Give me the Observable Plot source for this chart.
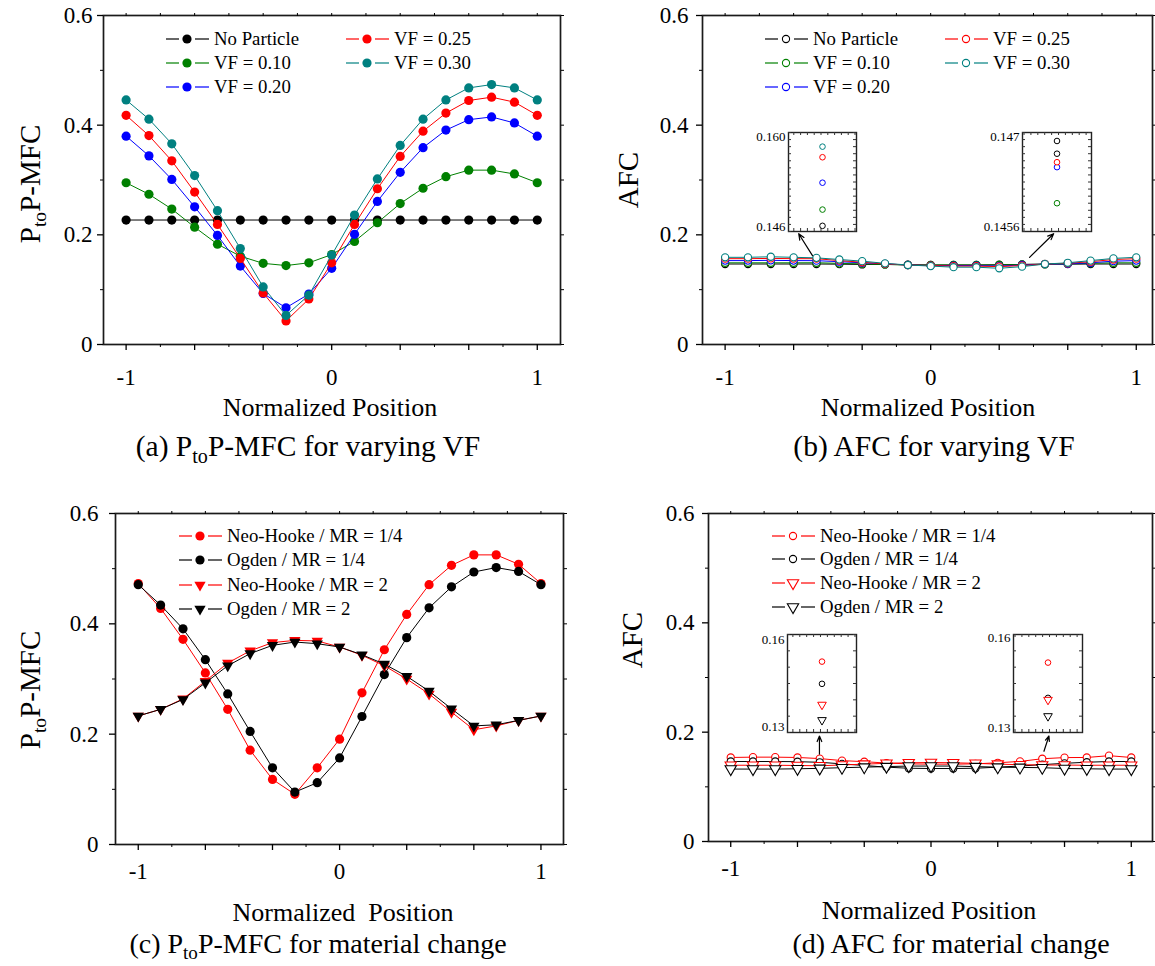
<!DOCTYPE html>
<html><head><meta charset="utf-8">
<script src="https://cdn.jsdelivr.net/npm/d3@7"></script>
<script src="https://cdn.jsdelivr.net/npm/@observablehq/plot@0.6"></script>
<style>
body { margin:0; background:#fff; }
#root { position:relative; width:1155px; height:966px; font-family:"Liberation Serif","Times New Roman",serif; color:#000; overflow:hidden; background:#fff; }
.box { position:absolute; }
.t { position:absolute; white-space:pre; transform:translate(-50%,-50%); line-height:1; }
.cap { font-size:29.5px; }
.cap2 { font-size:28px; }
.xt { font-size:26px; }
.yt { font-size:29px; transform:translate(-50%,-50%) rotate(-90deg); }
.t sub { font-size:0.68em; vertical-align:-0.32em; line-height:0; }
.leg { position:absolute; display:flex; align-items:center; height:22px; transform:translateY(-50%); font-size:18.8px; white-space:pre; }
.leg svg { display:block; }
</style></head>
<body><div id="root"></div>
<script>
// ---------------- data ----------------
const xPos = [-1, -0.8889, -0.7778, -0.6667, -0.5556, -0.4444, -0.3333, -0.2222, -0.1111, 0, 0.1111, 0.2222, 0.3333, 0.4444, 0.5556, 0.6667, 0.7778, 0.8889, 1];

// (a) PtoP-MFC for varying VF
const mfcNoParticle = [0.227,0.227,0.227,0.227,0.227,0.227,0.227,0.227,0.227,0.227,0.227,0.227,0.227,0.227,0.227,0.227,0.227,0.227,0.227];
const mfcVF10 = [0.295,0.274,0.247,0.214,0.183,0.161,0.148,0.144,0.149,0.164,0.188,0.222,0.257,0.285,0.306,0.318,0.318,0.311,0.295];
const mfcVF20 = [0.380,0.344,0.301,0.251,0.199,0.143,0.093,0.067,0.092,0.139,0.201,0.261,0.314,0.359,0.391,0.410,0.415,0.404,0.380];
const mfcVF25 = [0.418,0.381,0.335,0.278,0.219,0.157,0.094,0.043,0.083,0.149,0.219,0.284,0.343,0.389,0.422,0.445,0.451,0.442,0.418];
const mfcVF30 = [0.446,0.411,0.366,0.308,0.244,0.175,0.105,0.053,0.090,0.163,0.236,0.302,0.363,0.411,0.446,0.468,0.474,0.468,0.446];

// (b) AFC for varying VF
const afcNoParticle = [0.1468,0.1468,0.1468,0.1468,0.1468,0.1465,0.1460,0.1460,0.1455,0.1450,0.1450,0.1450,0.1455,0.1460,0.1469,0.1465,0.1468,0.1468,0.1468];
const afcVF10 = [0.1490,0.1490,0.1490,0.1490,0.1491,0.1480,0.1470,0.1460,0.1450,0.1450,0.1450,0.1450,0.1450,0.1460,0.1460,0.1470,0.1480,0.1490,0.1490];
const afcVF20 = [0.1530,0.1530,0.1535,0.1530,0.1529,0.1510,0.1490,0.1470,0.1450,0.1440,0.1440,0.1440,0.1430,0.1450,0.1465,0.1470,0.1490,0.1520,0.1530];
const afcVF25 = [0.1565,0.1565,0.1570,0.1565,0.1565,0.1530,0.1500,0.1470,0.1450,0.1440,0.1430,0.1430,0.1420,0.1440,0.1466,0.1480,0.1510,0.1550,0.1565];
const afcVF30 = [0.1590,0.1590,0.1600,0.1590,0.1580,0.1550,0.1520,0.1480,0.1450,0.1430,0.1410,0.1410,0.1390,0.1420,0.1467,0.1490,0.1530,0.1570,0.1590];

// (c) PtoP-MFC for material change
const mfcNhMR14 = [0.473,0.428,0.372,0.311,0.245,0.171,0.118,0.091,0.139,0.191,0.275,0.353,0.417,0.471,0.506,0.525,0.525,0.508,0.473];
const mfcOgMR14 = [0.471,0.434,0.391,0.335,0.273,0.205,0.139,0.095,0.112,0.157,0.232,0.308,0.375,0.429,0.467,0.494,0.502,0.495,0.471];
const mfcNhMR2  = [0.233,0.245,0.264,0.296,0.329,0.351,0.366,0.370,0.369,0.358,0.343,0.324,0.300,0.273,0.240,0.208,0.215,0.225,0.233];
const mfcOgMR2  = [0.233,0.245,0.263,0.293,0.324,0.346,0.361,0.367,0.364,0.358,0.344,0.327,0.305,0.278,0.246,0.215,0.217,0.225,0.233];

// (d) AFC for material change
const afcNhMR14 = [0.1537,0.1543,0.1543,0.1537,0.1517,0.1480,0.1460,0.1435,0.1420,0.1415,0.1415,0.1420,0.1440,0.1465,0.1514,0.1535,0.1537,0.1570,0.1537];
const afcOgMR14 = [0.1463,0.1463,0.1463,0.1460,0.1449,0.1420,0.1390,0.1360,0.1340,0.1335,0.1335,0.1340,0.1360,0.1380,0.1406,0.1430,0.1450,0.1463,0.1463];
const afcNhMR2  = [0.1395,0.1395,0.1395,0.1390,0.1385,0.1400,0.1415,0.1430,0.1440,0.1445,0.1440,0.1430,0.1415,0.1405,0.1400,0.1398,0.1395,0.1395,0.1395];
const afcOgMR2  = [0.1325,0.1325,0.1325,0.1330,0.1338,0.1350,0.1360,0.1370,0.1380,0.1380,0.1380,0.1370,0.1360,0.1355,0.1350,0.1335,0.1330,0.1325,0.1325];

// inset values (zoomed single positions)
const insetBLeftX = -0.5556;
const insetBLeftVals = [0.1468, 0.1491, 0.1529, 0.1565, 0.1580];
const insetBLeftColors = ["#000000", "#008000", "#0000ff", "#ff0000", "#008080"];
const insetBRightX = 0.5556;
const insetBRightVals = [0.14688, 0.14600, 0.14651, 0.14658, 0.14670];
const insetBRightColors = ["#000000", "#008000", "#0000ff", "#ff0000", "#000000"];
const insetDLeftX = -0.5556;
const insetDLeftVals = [0.1517, 0.1449, 0.1385, 0.1338];
const insetDRightX = 0.5556;
const insetDRightVals = [0.1514, 0.1406, 0.1400, 0.1350];
const insetDColors = ["#ff0000", "#000000", "#ff0000", "#000000"];
const insetDSymbols = ["circle", "circle", "triangle", "triangle"];

// ticks
const xMajorLabeled = [-1, 0, 1];
const xMajorPlain = [-0.6667, -0.3333, 0.3333, 0.6667];
const xMinor = [-0.8333, -0.5, -0.1667, 0.1667, 0.5, 0.8333];
const yMajor = [0, 0.2, 0.4, 0.6];
const yMinor = [0.1, 0.3, 0.5];

// arrows (data coords)
const arrowsB = [{x1:-0.575, y1:0.162, x2:-0.642, y2:0.202}, {x1:0.481, y1:0.159, x2:0.598, y2:0.202}];
const arrowsD = [{x1:-0.557, y1:0.160, x2:-0.557, y2:0.193}, {x1:0.564, y1:0.165, x2:0.589, y2:0.193}];

const RED = "#ff0000", GREEN = "#008000", BLUE = "#0000ff", TEAL = "#008080", BLACK = "#000000";

const seriesA = [
  {name:"No Particle", color:BLACK, values:mfcNoParticle, symbol:"circle", filled:true},
  {name:"VF = 0.10", color:GREEN, values:mfcVF10, symbol:"circle", filled:true},
  {name:"VF = 0.20", color:BLUE, values:mfcVF20, symbol:"circle", filled:true},
  {name:"VF = 0.25", color:RED, values:mfcVF25, symbol:"circle", filled:true},
  {name:"VF = 0.30", color:TEAL, values:mfcVF30, symbol:"circle", filled:true}
];
const seriesB = [
  {name:"No Particle", color:BLACK, values:afcNoParticle, symbol:"circle", filled:false},
  {name:"VF = 0.10", color:GREEN, values:afcVF10, symbol:"circle", filled:false},
  {name:"VF = 0.20", color:BLUE, values:afcVF20, symbol:"circle", filled:false},
  {name:"VF = 0.25", color:RED, values:afcVF25, symbol:"circle", filled:false},
  {name:"VF = 0.30", color:TEAL, values:afcVF30, symbol:"circle", filled:false}
];
const seriesC = [
  {name:"Neo-Hooke / MR = 1/4", color:RED, values:mfcNhMR14, symbol:"circle", filled:true},
  {name:"Ogden / MR = 1/4", color:BLACK, values:mfcOgMR14, symbol:"circle", filled:true},
  {name:"Neo-Hooke / MR = 2", color:RED, values:mfcNhMR2, symbol:"triangle", filled:true},
  {name:"Ogden / MR = 2", color:BLACK, values:mfcOgMR2, symbol:"triangle", filled:true}
];
const seriesD = [
  {name:"Neo-Hooke / MR = 1/4", color:RED, values:afcNhMR14, symbol:"circle", filled:false},
  {name:"Ogden / MR = 1/4", color:BLACK, values:afcOgMR14, symbol:"circle", filled:false},
  {name:"Neo-Hooke / MR = 2", color:RED, values:afcNhMR2, symbol:"triangle", filled:false},
  {name:"Ogden / MR = 2", color:BLACK, values:afcOgMR2, symbol:"triangle", filled:false}
];

// ---------------- drawing ----------------
const FONT = "Liberation Serif, Times New Roman, serif";
const root = document.getElementById("root");
const blank = () => "";

function dotOptions(s, scale) {
  const tri = s.symbol === "triangle";
  const o = {x:"x", y:"y", symbol: tri ? "triangle" : "circle", r: tri ? 4.2*scale : (s.filled ? 4.6 : 3.6)*scale};
  if (tri) o.rotate = 180;
  if (s.filled) { o.fill = s.color; o.stroke = "none"; }
  else { o.fill = "white"; o.stroke = s.color; o.strokeWidth = 1.1; }
  return o;
}

function place(el, left, top, w) {
  const d = document.createElement("div");
  d.className = "box";
  d.style.left = left + "px"; d.style.top = top + "px"; d.style.width = w + "px";
  d.appendChild(el);
  root.appendChild(d);
}

function mainPlot(cfg) {
  const marks = [
    Plot.frame({stroke:"#1a1a1a", strokeWidth:1.7}),
    Plot.axisX(xMajorLabeled, {anchor:"bottom", tickSize:6, tickPadding:cfg.xPad, tickFormat:d => String(d), label:null, strokeWidth:1.3}),
    Plot.axisX(xMajorPlain, {anchor:"bottom", tickSize:6, tickFormat:blank, label:null, strokeWidth:1.3}),
    Plot.axisX(xMinor, {anchor:"bottom", tickSize:3, tickFormat:blank, label:null}),
    Plot.axisX([...xMajorLabeled, ...xMajorPlain, ...xMinor], {anchor:"top", tickSize:3, tickFormat:blank, label:null}),
    Plot.axisY(yMajor, {anchor:"left", tickSize:6, tickPadding:cfg.yPad, tickFormat:d => String(d), label:null, strokeWidth:1.3}),
    Plot.axisY(yMinor, {anchor:"left", tickSize:3, tickFormat:blank, label:null}),
    Plot.axisY([...yMajor, ...yMinor], {anchor:"right", tickSize:3, tickFormat:blank, label:null})
  ];
  for (const s of cfg.series) {
    const data = xPos.map((x, i) => ({x, y:s.values[i]}));
    marks.push(Plot.line(data, {x:"x", y:"y", stroke:s.color, strokeWidth:1}));
    marks.push(Plot.dot(data, dotOptions(s, 1)));
  }
  if (cfg.arrows) marks.push(Plot.arrow(cfg.arrows, {x1:"x1", y1:"y1", x2:"x2", y2:"y2", stroke:"black", strokeWidth:1.2, headLength:8, headAngle:45}));
  const p = Plot.plot({
    width:cfg.width, height:cfg.height,
    marginTop:cfg.m[0], marginRight:cfg.m[1], marginBottom:cfg.m[2], marginLeft:cfg.m[3],
    x:{domain:cfg.xDomain}, y:{domain:[0, 0.6]},
    style:{fontFamily:FONT, fontSize:"23px", color:"black", background:"transparent", overflow:"visible"},
    marks
  });
  place(p, cfg.left, cfg.top, cfg.width);
}

function insetPlot(cfg) {
  const ml = 42, mr = 5, mt = 6, mb = 6;
  const xd = [cfg.x - 0.1, cfg.x + 0.1];
  const yTicks = d3.ticks(cfg.yDomain[0], cfg.yDomain[1], cfg.nTicks);
  const xTicks = d3.ticks(xd[0], xd[1], 10);
  const data = cfg.values.map((v, i) => ({x:cfg.x, y:v, c:cfg.colors[i], s:cfg.symbols ? cfg.symbols[i] : "circle"}));
  const marks = [
    Plot.frame({fill:"white", stroke:"#222", strokeWidth:1.4}),
    Plot.tickY(yTicks, {y:d => d, stroke:"#333", insetRight:cfg.w - 3}),
    Plot.tickY(yTicks, {y:d => d, stroke:"#333", insetLeft:cfg.w - 3}),
    Plot.tickX(xTicks, {x:d => d, stroke:"#333", insetBottom:cfg.h - 3}),
    Plot.tickX(xTicks, {x:d => d, stroke:"#333", insetTop:cfg.h - 3}),
    Plot.axisY([cfg.yDomain[1]], {anchor:"left", tickSize:0, tickPadding:3, dy:cfg.dyTop, tickFormat:() => cfg.labels[1], label:null}),
    Plot.axisY([cfg.yDomain[0]], {anchor:"left", tickSize:0, tickPadding:3, dy:cfg.dyBottom, tickFormat:() => cfg.labels[0], label:null}),
    Plot.dot(data.filter(d => d.s === "circle"), {x:"x", y:"y", r:2.8, stroke:"c", fill:"white", strokeWidth:1}),
    Plot.dot(data.filter(d => d.s === "triangle"), {x:"x", y:"y", symbol:"triangle", rotate:180, r:3.2, stroke:"c", fill:"white", strokeWidth:1})
  ];
  const p = Plot.plot({
    width:ml + cfg.w + mr, height:mt + cfg.h + mb,
    marginTop:mt, marginRight:mr, marginBottom:mb, marginLeft:ml,
    x:{domain:xd, axis:null}, y:{domain:cfg.yDomain},
    color:{type:"identity"},
    style:{fontFamily:FONT, fontSize:"13px", color:"black", background:"transparent", overflow:"visible"},
    marks
  });
  place(p, cfg.left - ml, cfg.top - mt, ml + cfg.w + mr);
}

function legend(series, order, colLefts, rowYs) {
  order.forEach(([idx, col, row]) => {
    const s = series[idx];
    const item = document.createElement("div");
    item.className = "leg";
    item.style.left = colLefts[col] + "px";
    item.style.top = rowYs[row] + "px";
    const svg = d3.create("svg").attr("width", 48).attr("height", 22);
    svg.append("line").attr("x1", 0).attr("x2", 13).attr("y1", 11).attr("y2", 11).attr("stroke", s.color).attr("stroke-width", 1.2);
    svg.append("line").attr("x1", 29).attr("x2", 43).attr("y1", 11).attr("y2", 11).attr("stroke", s.color).attr("stroke-width", 1.2);
    const tri = s.symbol === "triangle";
    const r = tri ? 4.2 : (s.filled ? 4.6 : 3.6);
    const sym = d3.symbol(tri ? d3.symbolTriangle : d3.symbolCircle, Math.PI * r * r)();
    svg.append("path").attr("d", sym)
      .attr("transform", `translate(21,11)` + (tri ? " rotate(180)" : ""))
      .attr("fill", s.filled ? s.color : "white")
      .attr("stroke", s.filled ? "none" : s.color)
      .attr("stroke-width", 1.1);
    item.appendChild(svg.node());
    const span = document.createElement("span");
    span.textContent = s.name;
    item.appendChild(span);
    root.appendChild(item);
  });
}

function text(html, cls, x, y) {
  const d = document.createElement("div");
  d.className = "t " + cls;
  d.innerHTML = html;
  d.style.left = x + "px"; d.style.top = y + "px";
  root.appendChild(d);
}

// panels
mainPlot({series:seriesA, left:0, top:0, width:580, height:400, m:[15, 20, 56, 103], xDomain:[-1.11, 1.113], xPad:18, yPad:5});
mainPlot({series:seriesB, left:580, top:0, width:575, height:400, m:[15, 3, 56, 122], xDomain:[-1.11, 1.079], xPad:18, yPad:8, arrows:arrowsB});
mainPlot({series:seriesC, left:0, top:490, width:580, height:420, m:[23, 17, 66, 115], xDomain:[-1.113, 1.112], xPad:12, yPad:11});
mainPlot({series:seriesD, left:580, top:490, width:575, height:420, m:[23, 3, 69, 128], xDomain:[-1.111, 1.106], xPad:12, yPad:8, arrows:arrowsD});

// insets
insetPlot({left:788, top:132, w:68, h:99, x:insetBLeftX, values:insetBLeftVals, colors:insetBLeftColors, yDomain:[0.146, 0.160], nTicks:14, labels:["0.146", "0.160"], dyTop:4, dyBottom:-5});
insetPlot({left:1022, top:132, w:69, h:99, x:insetBRightX, values:insetBRightVals, colors:insetBRightColors, yDomain:[0.1456, 0.147], nTicks:14, labels:["0.1456", "0.147"], dyTop:4, dyBottom:-5});
insetPlot({left:787, top:634, w:69, h:98, x:insetDLeftX, values:insetDLeftVals, colors:insetDColors, symbols:insetDSymbols, yDomain:[0.13, 0.16], nTicks:6, labels:["0.13", "0.16"], dyTop:5, dyBottom:-6});
insetPlot({left:1013, top:634, w:69, h:98, x:insetDRightX, values:insetDRightVals, colors:insetDColors, symbols:insetDSymbols, yDomain:[0.13, 0.16], nTicks:6, labels:["0.13", "0.16"], dyTop:3, dyBottom:-5});

// legends: [series index, column, row]
legend(seriesA, [[0,0,0],[3,1,0],[1,0,1],[4,1,1],[2,0,2]], [166, 346], [39, 63, 87]);
legend(seriesB, [[0,0,0],[3,1,0],[1,0,1],[4,1,1],[2,0,2]], [765, 945], [39, 63, 87]);
legend(seriesC, [[0,0,0],[1,0,1],[2,0,2],[3,0,3]], [179], [536, 560, 585, 609]);
legend(seriesD, [[0,0,0],[1,0,1],[2,0,2],[3,0,3]], [772], [536, 559, 583, 607]);

// titles
text("P<sub>to</sub>P-MFC", "yt", 30, 184);
text("AFC", "yt", 628, 180);
text("P<sub>to</sub>P-MFC", "yt", 30, 690);
text("AFC", "yt", 632, 640);
text("Normalized Position", "xt", 330, 408);
text("Normalized Position", "xt", 928, 408);
text("Normalized  Position", "xt", 343, 913);
text("Normalized Position", "xt", 929, 911);
text("(a) P<sub>to</sub>P-MFC for varying VF", "cap", 308, 447);
text("(b) AFC for varying VF", "cap", 934, 447);
text("(c) P<sub>to</sub>P-MFC for material change", "cap2", 318, 944);
text("(d) AFC for material change", "cap2", 951, 944);
</script>
</body></html>
